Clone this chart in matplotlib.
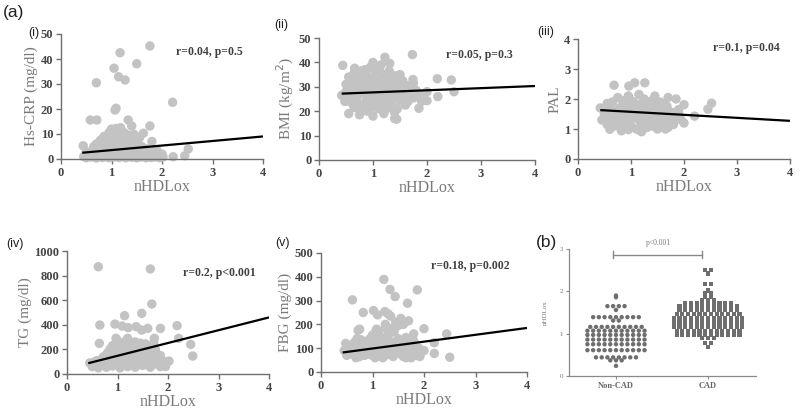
import matplotlib
matplotlib.use('Agg')
import matplotlib.pyplot as plt
import numpy as np

SERIF = ['Liberation Serif', 'DejaVu Serif']
SANS = ['Liberation Sans', 'DejaVu Sans']
DOT = '#C3C3C3'
SWARM = '#6E6E6E'

# ── (i) Hs-CRP vs nHDLox ─────────────────────────────
crp_x = [0.45, 0.5, 0.55, 0.6, 0.62, 0.68, 0.7, 0.72, 0.75, 0.78, 0.8, 0.82, 0.85, 0.88, 0.9,
         0.92, 0.95, 0.97, 1.0, 1.02, 1.05, 1.08, 1.1, 1.12, 1.15, 1.18, 1.2, 1.22, 1.25, 1.28,
         1.3, 1.33, 1.35, 1.38, 1.4, 1.42, 1.45, 1.48, 1.5, 1.52, 1.55, 1.58, 1.6, 1.63, 1.65,
         1.68, 1.7, 1.72, 1.75, 1.78, 1.8, 1.85, 1.88, 1.92, 1.95, 2.0, 2.02,
         0.7, 0.78, 0.85, 0.9, 0.95, 1.0, 1.02, 1.05, 1.08, 1.1, 1.12, 1.15, 1.18, 1.22, 1.25,
         1.3, 1.35, 1.4, 1.45, 1.5, 1.55, 1.25, 0.65,
         0.5, 0.58, 0.65, 0.72, 0.8, 0.88, 0.95, 1.0, 1.05, 1.12, 1.2, 1.25, 1.32, 1.4, 1.48,
         1.55, 1.62, 1.7, 1.78, 1.85, 1.9, 1.0, 1.1, 1.3, 0.85, 1.45, 1.6, 0.9, 1.15, 1.2,
         1.76, 1.17, 1.5, 1.05, 1.14, 1.27, 0.7, 2.21, 1.09, 1.07, 0.58, 0.71, 1.33, 1.4, 1.76,
         1.63, 1.8, 0.44, 2.52, 2.45, 2.22, 1.0, 1.1, 1.55]
crp_y = [1.0, 0.5, 2.0, 0.8, 3.0, 1.5, 0.4, 2.5, 4.5, 1.0, 3.5, 0.6, 2.0, 5.5, 1.2,
         3.0, 0.5, 6.5, 2.2, 4.0, 0.8, 1.8, 3.2, 5.0, 0.6, 2.5, 7.0, 1.2, 3.8, 0.5,
         2.0, 6.0, 1.0, 4.5, 0.7, 2.8, 1.5, 3.5, 0.5, 5.5, 1.8, 0.8, 3.0, 1.2, 2.2,
         0.5, 4.0, 1.5, 2.8, 0.6, 1.8, 0.8, 2.5, 1.2, 0.5, 2.0, 0.8,
         6.0, 7.5, 9.0, 7.0, 10.5, 8.5, 11.5, 6.5, 12.0, 9.5, 11.0, 7.8, 12.5, 9.0, 10.5,
         8.0, 9.5, 7.0, 9.8, 6.0, 8.5, 5.0, 5.0,
         3.0, 1.2, 3.8, 0.9, 2.2, 1.0, 3.8, 1.0, 3.0, 2.0, 4.5, 1.8, 3.0, 1.8, 1.0,
         3.8, 2.0, 1.0, 3.2, 2.0, 3.5, 5.5, 7.5, 5.5, 4.5, 6.0, 5.0, 8.5, 9.0, 10.5,
         45.2, 42.5, 38.1, 36.3, 32.9, 31.6, 30.5, 22.7, 20.3, 19.6, 15.6, 15.6, 15.6, 13.2, 13.2,
         10.3, 7.0, 5.3, 4.0, 1.3, 0.9, 12.0, 12.2, 8.5]

# ── (ii) BMI vs nHDLox ───────────────────────────────
bmi_x = [0.55, 0.75, 0.9, 1.0, 1.1, 1.2, 1.3, 0.65, 1.45, 1.6, 1.85,
         0.48, 0.6, 0.7, 0.8, 0.88, 0.95, 1.05, 1.15, 1.25, 1.35, 1.5, 1.65, 1.75, 1.9, 2.0,
         0.42, 0.55, 0.65, 0.75, 0.85, 0.95, 1.05, 1.12, 1.2, 1.3, 1.4, 1.5, 1.6, 1.7, 1.8, 1.9, 2.0,
         0.5, 0.6, 0.7, 0.8, 0.9, 1.0, 1.08, 1.15, 1.25, 1.35, 1.45, 1.55, 1.65, 1.75,
         0.65, 0.78, 0.88, 0.95, 1.0, 1.05, 1.12, 1.2, 1.3, 1.4, 1.5,
         0.6, 0.7, 0.8, 0.9, 1.0, 1.1, 1.2, 1.3, 1.4, 1.5, 1.6, 0.55, 0.72, 0.85, 1.05,
         1.15, 1.25, 1.35, 1.45, 0.62, 0.8, 0.95, 1.05, 1.25, 1.4, 1.55, 1.7, 0.5, 1.0, 1.18,
         1.73, 1.22, 0.44, 0.66, 1.31, 1.74, 2.19, 2.45, 2.5, 2.2, 1.44, 1.4]
bmi_y = [19.0, 18.5, 20.0, 18.0, 21.0, 19.0, 22.0, 21.5, 21.0, 22.5, 21.2,
         24.0, 23.5, 25.0, 22.5, 24.5, 23.0, 25.5, 23.5, 25.0, 23.5, 24.5, 24.0, 25.5, 24.0, 24.3,
         26.5, 27.5, 28.5, 27.0, 29.0, 27.5, 28.5, 27.0, 29.5, 27.5, 28.5, 27.0, 28.0, 26.5, 28.5, 27.0, 28.0,
         31.0, 32.5, 30.5, 33.0, 31.5, 33.5, 31.0, 33.0, 31.5, 33.0, 31.0, 32.5, 30.5, 31.5,
         35.5, 36.5, 35.0, 38.0, 40.0, 36.0, 37.5, 35.0, 36.5, 34.5, 35.0,
         26.0, 22.0, 30.0, 26.0, 29.0, 25.0, 32.0, 30.0, 26.0, 30.0, 26.0, 34.0, 33.0, 37.0, 31.0,
         39.0, 34.0, 29.0, 33.0, 30.0, 20.0, 21.0, 22.0, 21.0, 19.5, 28.5, 29.5, 28.0, 24.0, 26.0,
         43.2, 42.1, 38.8, 37.6, 39.6, 33.0, 33.3, 32.8, 28.0, 26.0, 16.7, 17.0]

# ── (iii) PAL vs nHDLox ──────────────────────────────
pal_x = [0.55, 0.6, 0.7, 0.82, 0.9, 1.0, 1.1, 1.2, 1.3, 1.4, 1.5, 1.6, 1.7, 1.8,
         0.45, 0.52, 0.62, 0.72, 0.8, 0.9, 0.98, 1.05, 1.15, 1.25, 1.35, 1.45, 1.55, 1.65, 1.75,
         1.85, 1.95, 2.0,
         0.42, 0.5, 0.6, 0.7, 0.78, 0.88, 0.95, 1.02, 1.1, 1.2, 1.28, 1.38, 1.48, 1.58, 1.68,
         1.78, 1.9,
         0.65, 0.75, 0.85, 0.95, 1.05, 1.15, 1.25, 1.35, 1.45, 1.55, 1.7, 1.85,
         0.5, 0.6, 0.7, 0.8, 0.9, 1.0, 1.1, 1.2, 1.3, 1.4, 1.5, 1.6, 1.7, 1.8, 0.85,
         1.0, 1.2, 1.4, 1.6, 0.55, 0.75, 1.25, 1.05, 1.35, 1.65, 0.95, 1.15, 1.45, 0.65, 1.9,
         0.68, 0.96, 1.07, 1.26, 2.0, 2.52, 2.45, 2.2]
pal_y = [1.15, 0.99, 1.1, 0.94, 1.05, 1.1, 1.0, 0.91, 1.05, 1.1, 1.0, 1.1, 1.05, 1.15,
         1.3, 1.4, 1.25, 1.45, 1.3, 1.4, 1.25, 1.45, 1.3, 1.4, 1.25, 1.4, 1.3, 1.45, 1.3,
         1.4, 1.3, 1.2,
         1.7, 1.6, 1.75, 1.55, 1.7, 1.6, 1.8, 1.55, 1.7, 1.6, 1.75, 1.55, 1.7, 1.6, 1.75,
         1.55, 1.65,
         1.9, 2.05, 1.95, 2.1, 1.9, 2.15, 2.0, 1.85, 2.1, 1.9, 2.05, 2.0,
         1.5, 1.5, 1.35, 1.5, 1.2, 1.35, 1.5, 1.2, 1.5, 1.35, 1.55, 1.2, 1.6, 1.3, 1.85,
         1.95, 1.85, 1.95, 1.85, 1.85, 1.2, 1.15, 1.65, 1.65, 1.0, 0.98, 0.97, 1.2, 1.6, 1.5,
         2.46, 2.43, 2.54, 2.54, 1.81, 1.86, 1.66, 1.43]

# ── (iv) TG vs nHDLox ────────────────────────────────
tg_x = [0.45, 0.5, 0.55, 0.62, 0.7, 0.78, 0.85, 0.9, 0.98, 1.05, 1.12, 1.2, 1.28, 1.35, 1.42,
        1.5, 1.58, 1.65, 1.72, 1.8, 1.88, 1.95, 2.02,
        0.6, 0.72, 0.8, 0.88, 0.95, 1.0, 1.08, 1.15, 1.22, 1.3, 1.38, 1.45, 1.52, 1.6, 1.7,
        1.78, 0.85,
        0.9, 1.0, 1.05, 1.12, 1.2, 1.28, 1.35, 1.45, 1.55, 1.65, 1.72, 0.97,
        0.6, 0.75, 0.82, 0.92, 1.0, 1.1, 1.18, 1.25, 1.32, 1.4, 1.5, 1.6, 1.68, 1.75, 0.95,
        1.08, 1.18, 1.3, 1.42, 1.55, 1.65, 1.85, 0.7, 0.55, 1.0, 1.35, 1.85, 1.95, 1.45, 1.15,
        0.62, 1.65, 1.68, 1.48, 1.14, 0.65, 0.95, 1.09, 1.21, 1.37, 1.6, 1.85, 2.18, 0.64,
        1.48, 1.73, 2.21, 2.45, 2.49]
tg_y = [90, 60, 100, 50, 80, 55, 110, 65, 90, 50, 100, 60, 85, 55, 105,
        70, 95, 55, 80, 110, 95, 100, 105,
        110, 140, 170, 130, 190, 150, 175, 135, 195, 150, 180, 130, 170, 140, 165,
        125, 200,
        230, 270, 210, 250, 290, 230, 260, 215, 245, 220, 255, 290,
        70, 100, 150, 100, 120, 70, 140, 110, 200, 80, 110, 90, 120, 200, 160,
        230, 215, 120, 160, 190, 170, 150, 110, 70, 200, 95, 60, 60, 250, 260,
        872, 854, 569, 493, 474, 398, 406, 390, 377, 385, 371, 371, 393, 249,
        357, 290, 290, 241, 146]

# ── (v) FBG vs nHDLox ────────────────────────────────
fbg_x = [0.45, 0.5, 0.55, 0.6, 0.65, 0.7, 0.75, 0.8, 0.85, 0.9, 0.95, 1.0, 1.05, 1.1, 1.15,
         1.2, 1.25, 1.3, 1.35, 1.4, 1.45, 1.5, 1.55, 1.6, 1.65, 1.7, 1.75, 1.8, 1.85, 1.9,
         1.95, 2.0, 0.48, 0.58, 0.68, 0.78, 0.88, 0.98, 1.08, 1.18, 1.28, 1.38, 1.48, 1.58,
         1.68, 1.78, 1.08, 1.05, 1.0, 1.42,
         0.52, 0.62, 0.72, 0.82, 0.92, 1.02, 1.12, 1.22, 1.32, 1.42, 1.52, 1.62, 1.72, 1.82,
         1.92, 0.7, 0.9, 1.12, 1.3, 1.5, 1.65, 1.0, 1.2, 1.4, 1.6, 0.85, 1.75, 1.15, 1.35, 1.25,
         1.22, 1.34, 1.44, 1.87, 0.61, 1.68, 0.82, 1.02, 1.24, 1.1, 1.3, 1.35, 1.45, 1.55,
         1.6, 1.7, 1.5, 1.4, 0.72, 0.75, 1.8, 2.0, 2.2, 2.44, 2.2, 2.5, 1.9, 1.25]
fbg_y = [90, 70, 110, 75, 125, 85, 65, 100, 120, 75, 140, 90, 60, 110, 80,
         130, 70, 100, 120, 65, 90, 140, 75, 110, 60, 95, 80, 130, 70, 100,
         85, 90, 120, 95, 60, 135, 95, 115, 145, 100, 150, 85, 110, 130,
         70, 105, 180, 165, 155, 170,
         95, 100, 110, 80, 110, 125, 95, 115, 80, 125, 95, 85, 125, 95,
         65, 140, 130, 160, 140, 120, 145, 70, 60, 105, 65, 70, 60, 130, 165, 185,
         389, 347, 317, 345, 303, 289, 250, 258, 254, 240, 245, 235, 210, 225,
         200, 215, 195, 185, 175, 180, 160, 182, 123, 160, 78, 62, 80, 200]

# regression lines: (intercept, slope)
fits = {'crp': (1.74, 1.82), 'bmi': (26.84, 0.87), 'pal': (1.672, -0.10),
        'tg': (44.0, 104.0), 'fbg': (69.9, 28.8)}
fit_x = [0.42, 4.0]

# ── (b) swarm: nHDLox by group (row level, count) ───
noncad_lvl = [0.24, 0.37, 0.44, 0.61, 0.75, 0.86, 0.97, 1.07, 1.16, 1.31, 1.39, 1.56, 1.65, 1.86, 1.9]
noncad_cnt = [1, 3, 8, 11, 11, 11, 11, 11, 10, 2, 9, 1, 4, 1, 1]
cad_lvl = [0.69, 0.78, 0.89, 0.97, 1.06, 1.16, 1.26, 1.36, 1.46, 1.56, 1.65, 1.73, 1.8,
           1.86, 1.96, 2.02, 2.18, 2.42, 2.5]
cad_cnt = [1, 2, 3, 12, 12, 13, 13, 13, 12, 11, 11, 9, 3, 2, 2, 1, 2, 1, 2]
groups = ['Non-CAD', 'CAD']


def fx(px):
    return px / 800.0


def fy(py):
    return 1 - py / 409.0


def scatter_panel(fig, rect, xs, ys, fit, ylim, yticks, ylabel, note, note_pos):
    ax = fig.add_axes(rect)
    ax.scatter(xs, ys, s=46, c=DOT, edgecolors='none', zorder=2, clip_on=False)
    b0, b1 = fit
    ax.plot(fit_x, [b0 + b1 * v for v in fit_x], color='black', lw=1.6, zorder=3,
            solid_capstyle='butt')
    ax.set_xlim(0, 4)
    ax.set_ylim(*ylim)
    ax.set_xticks([0, 1, 2, 3, 4])
    ax.set_yticks(yticks)
    for s in ['top', 'right']:
        ax.spines[s].set_visible(False)
    for s in ['left', 'bottom']:
        ax.spines[s].set_color('#707070')
        ax.spines[s].set_linewidth(1.0)
    ax.tick_params(direction='out', length=3.5, width=1.0, color='#707070', pad=2)
    for lab in ax.get_xticklabels() + ax.get_yticklabels():
        lab.set_family(SERIF)
        lab.set_fontweight('bold')
        lab.set_fontsize(9)
        lab.set_color('#444444')
    ax.set_xlabel('nHDLox', family=SERIF, fontsize=11.5, color='#7A7A7A', labelpad=0)
    ax.set_ylabel(ylabel, family=SERIF, fontsize=11, color='#7A7A7A', labelpad=2)
    ax.text(note_pos[0], note_pos[1], note, transform=ax.transAxes, family=SERIF,
            fontsize=8.5, fontweight='bold', color='#404040', ha='left', va='center')
    return ax


def draw():
    fig = plt.figure(figsize=(8, 4.09), dpi=100)
    fig.patch.set_facecolor('white')

    scatter_panel(fig, [fx(61), fy(159), fx(202), 125 / 409], crp_x, crp_y, fits['crp'],
                  (0, 50), [0, 10, 20, 30, 40, 50], 'Hs-CRP (mg/dl)',
                  'r=0.04, p=0.5', (0.57, 0.86))
    scatter_panel(fig, [fx(319), fy(160), fx(216), 122 / 409], bmi_x, bmi_y, fits['bmi'],
                  (0, 50), [0, 10, 20, 30, 40, 50], 'BMI (kg/m$^2$)',
                  'r=0.05, p=0.3', (0.59, 0.86))
    scatter_panel(fig, [fx(578), fy(159), fx(212), 120 / 409], pal_x, pal_y, fits['pal'],
                  (0, 4), [0, 1, 2, 3, 4], 'PAL',
                  'r=0.1, p=0.04', (0.635, 0.925))
    scatter_panel(fig, [fx(67), fy(374), fx(202), 123 / 409], tg_x, tg_y, fits['tg'],
                  (0, 1000), [0, 200, 400, 600, 800, 1000], 'TG (mg/dl)',
                  'r=0.2, p<0.001', (0.575, 0.82))
    scatter_panel(fig, [fx(321), fy(372), fx(206), 119 / 409], fbg_x, fbg_y, fits['fbg'],
                  (0, 500), [0, 100, 200, 300, 400, 500], 'FBG (mg/dl)',
                  'r=0.18, p=0.002', (0.535, 0.89))

    # ── (b) swarm panel ──────────────────────────────
    axb = fig.add_axes([fx(569), fy(376), fx(187), 127 / 409])
    step = 0.062
    for gi, (lvls, cnts, mk, ms) in enumerate([(noncad_lvl, noncad_cnt, 'o', 10),
                                              (cad_lvl, cad_cnt, 's', 9)]):
        for lv, n in zip(lvls, cnts):
            offs = (np.arange(n) - (n - 1) / 2.0) * step
            axb.scatter(gi + offs, np.full(n, lv), s=ms, marker=mk, c=SWARM,
                        edgecolors='none', zorder=2)
    axb.set_xlim(-0.51, 1.52)
    axb.set_ylim(0, 3)
    axb.set_yticks([0, 1, 2, 3])
    axb.set_xticks([0, 1])
    axb.set_xticklabels(groups)
    for s in ['top', 'right']:
        axb.spines[s].set_visible(False)
    for s in ['left', 'bottom']:
        axb.spines[s].set_color('#8A8A8A')
        axb.spines[s].set_linewidth(0.9)
    axb.tick_params(direction='out', length=2.5, width=0.8, color='#8A8A8A', pad=2)
    for lab in axb.get_yticklabels():
        lab.set_family(SERIF)
        lab.set_fontsize(5)
        lab.set_color('#777777')
    for lab in axb.get_xticklabels():
        lab.set_family(SERIF)
        lab.set_fontsize(6)
        lab.set_fontweight('bold')
        lab.set_color('#666666')
    axb.set_ylabel('nHDLox', family=SERIF, fontsize=5, color='#777777', labelpad=8)
    # significance bracket
    yb = 2.87
    axb.plot([-0.03, 0.93], [yb, yb], color='#8A8A8A', lw=1.0, clip_on=False)
    for xe in [-0.03, 0.93]:
        axb.plot([xe, xe], [yb - 0.08, yb + 0.08], color='#8A8A8A', lw=1.0, clip_on=False)
    axb.text(0.46, 3.13, 'p<0.001', family=SERIF, fontsize=5.5, color='#777777',
             ha='center', va='center', clip_on=False)

    # ── panel tags ───────────────────────────────────
    fig.text(fx(3), fy(12), '(a)', family=SANS, fontsize=12.5, color='#222222',
             ha='left', va='center')
    fig.text(fx(536), fy(243), '(b)', family=SANS, fontsize=12.5, color='#222222',
             ha='left', va='center')
    tags = [('(i)', 34, 33), ('(ii)', 281, 25), ('(iii)', 546, 32), ('(iv)', 15, 244),
            ('(v)', 282, 243)]
    for t, px, py in tags:
        fig.text(fx(px), fy(py), t, family=SANS, fontsize=9, color='#222222',
                 ha='center', va='center')

    fig.savefig('out.png', dpi=100, facecolor='white')
    plt.close(fig)


if __name__ == '__main__':
    draw()
